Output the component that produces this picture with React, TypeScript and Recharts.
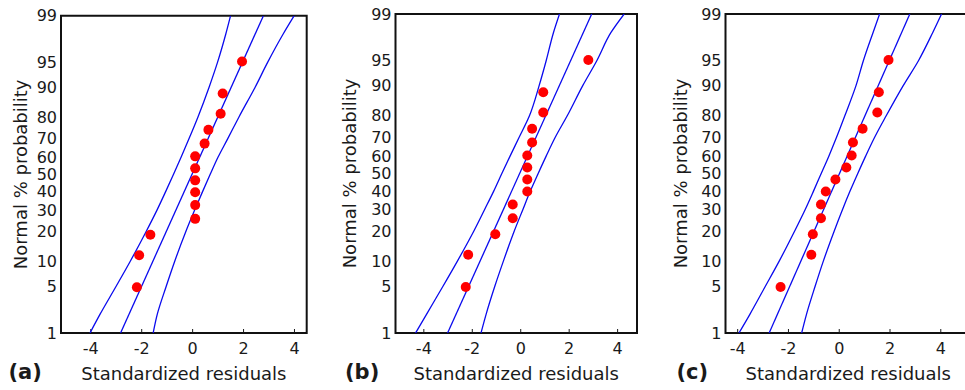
import { ScatterChart, Scatter, XAxis, YAxis, ReferenceArea } from "recharts";

// ranks of the 14 residuals, plotted as normal % probability (same in every panel)
const RANK_PROBS = [4.9, 11.8, 18.8, 25.7, 32.6, 39.6, 46.5, 53.5, 60.4, 67.4, 74.3, 81.3, 88.2, 95.1];

// standardized residuals, in rank order
const residualsA = [-2.19, -2.1, -1.66, 0.1, 0.1, 0.1, 0.1, 0.1, 0.1, 0.47, 0.62, 1.1, 1.18, 1.94];
const residualsB = [-2.27, -2.17, -1.05, -0.33, -0.33, 0.27, 0.27, 0.27, 0.27, 0.47, 0.47, 0.93, 0.93, 2.79];
const residualsC = [-2.31, -1.1, -1.04, -0.72, -0.72, -0.53, -0.15, 0.28, 0.49, 0.54, 0.92, 1.5, 1.56, 1.94];

// confidence band, read at these probabilities
const BAND_PROBS = [1, 2, 5, 10, 20, 30, 40, 50, 60, 70, 80, 90, 95, 98, 99];
const lowerA = [-4.03, -3.64, -3.01, -2.46, -1.83, -1.4, -1.06, -0.75, -0.45, -0.14, 0.21, 0.65, 0.98, 1.3, 1.49];
const upperA = [-1.55, -1.39, -1.04, -0.71, -0.27, 0.08, 0.39, 0.69, 1.0, 1.38, 1.82, 2.46, 2.95, 3.55, 3.99];
const lowerB = [-4.34, -3.89, -3.21, -2.62, -1.94, -1.49, -1.11, -0.78, -0.44, -0.07, 0.36, 0.76, 1.05, 1.35, 1.6];
const upperB = [-1.64, -1.43, -1.07, -0.72, -0.27, 0.09, 0.4, 0.72, 1.05, 1.42, 1.92, 2.56, 3.14, 3.72, 4.27];
const lowerC = [-3.95, -3.52, -2.91, -2.37, -1.76, -1.34, -1.01, -0.71, -0.41, -0.11, 0.22, 0.66, 0.95, 1.33, 1.59];
const upperC = [-1.48, -1.29, -0.95, -0.63, -0.2, 0.13, 0.43, 0.73, 1.04, 1.39, 1.85, 2.52, 3.12, 3.68, 4.03];

// fitted normal line (ends at 1% and 99%)
const FIT_PROBS = [1, 99];
const fitA = [-2.83, 2.78];
const fitB = [-3.02, 2.93];
const fitC = [-2.76, 2.78];

const Y_TICKS = [1, 5, 10, 20, 30, 40, 50, 60, 70, 80, 90, 95, 99];
const X_TICKS = [-4, -2, 0, 2, 4];

const BLUE = "#0a0aee";
const RED = "#ff0000";
const INK = "#1a1a1a";

// inverse normal cdf (Acklam), used for the probability axis
function probit(p: number): number {
  const a = [-39.69683028665376, 220.9460984245205, -275.9285104469687, 138.357751867269, -30.66479806614716, 2.506628277459239];
  const b = [-54.47609879822406, 161.5858368580409, -155.6989798598866, 66.80131188771972, -13.28068155288572];
  const c = [-0.007784894002430293, -0.3223964580411365, -2.400758277161838, -2.549732539343734, 4.374664141464968, 2.938163982699619];
  const d = [0.007784695709041462, 0.3224671290700398, 2.445134137142996, 3.754408661907416];
  const pl = 0.02425;
  if (p < pl) {
    const q = Math.sqrt(-2 * Math.log(p));
    return (((((c[0] * q + c[1]) * q + c[2]) * q + c[3]) * q + c[4]) * q + c[5]) / ((((d[0] * q + d[1]) * q + d[2]) * q + d[3]) * q + 1);
  }
  if (p <= 1 - pl) {
    const q = p - 0.5;
    const r = q * q;
    return ((((((a[0] * r + a[1]) * r + a[2]) * r + a[3]) * r + a[4]) * r + a[5]) * q) / (((((b[0] * r + b[1]) * r + b[2]) * r + b[3]) * r + b[4]) * r + 1);
  }
  const q = Math.sqrt(-2 * Math.log(1 - p));
  return -(((((c[0] * q + c[1]) * q + c[2]) * q + c[3]) * q + c[4]) * q + c[5]) / ((((d[0] * q + d[1]) * q + d[2]) * q + d[3]) * q + 1);
}

const Z_LO = probit(0.01);
const Z_HI = probit(0.99);

const toPoints = (xs: number[], probs: number[]) => xs.map((x, i) => ({ x, z: probit(probs[i] / 100) }));

interface PanelProps {
  left: number;
  width: number;
  plotLeft: number;
  plotRight: number;
  plotTop: number;
  xDomain: [number, number];
  residuals: number[];
  lower: number[];
  upper: number[];
  fit: number[];
  tag: string;
  tagLeft: number;
  titleOffset: number;
}

function Panel(p: PanelProps) {
  const lineProps = { stroke: BLUE, strokeWidth: 1.3 };
  return (
    <>
      <div style={{ position: "absolute", left: p.left, top: 0 }}>
        <ScatterChart
          width={p.width}
          height={390}
          margin={{ top: p.plotTop, right: p.width - p.plotRight, bottom: 0, left: 0 }}
        >
          <XAxis
            type="number"
            dataKey="x"
            domain={p.xDomain}
            allowDataOverflow
            ticks={X_TICKS}
            interval={0}
            height={57}
            axisLine={false}
            tickLine={{ stroke: INK, strokeWidth: 1 }}
            tickSize={-4}
            tickMargin={14}
            tick={{ fill: INK, fontSize: 16 }}
            label={{ value: "Standardized residuals", position: "insideBottom", offset: 10, fill: INK, fontSize: 18 }}
          />
          <YAxis
            type="number"
            dataKey="z"
            domain={[Z_LO, Z_HI]}
            allowDataOverflow
            ticks={Y_TICKS.map((t) => probit(t / 100))}
            tickFormatter={(_v: number, i: number) => String(Y_TICKS[i])}
            interval={0}
            width={p.plotLeft}
            axisLine={false}
            tickLine={false}
            tickSize={0}
            tickMargin={4}
            tick={{ fill: INK, fontSize: 16 }}
            label={{
              value: "Normal % probability",
              angle: -90,
              position: "insideLeft",
              offset: p.titleOffset,
              fill: INK,
              fontSize: 18,
              style: { textAnchor: "middle" },
            }}
          />
          <ReferenceArea
            x1={p.xDomain[0]}
            x2={p.xDomain[1]}
            y1={Z_LO}
            y2={Z_HI}
            fill="none"
            stroke="#111"
            strokeWidth={2}
          />
          <Scatter data={toPoints(p.lower, BAND_PROBS)} fill={BLUE} line={lineProps} lineJointType="monotoneY" shape={() => <g />} isAnimationActive={false} />
          <Scatter data={toPoints(p.fit, FIT_PROBS)} fill={BLUE} line={lineProps} shape={() => <g />} isAnimationActive={false} />
          <Scatter data={toPoints(p.upper, BAND_PROBS)} fill={BLUE} line={lineProps} lineJointType="monotoneY" shape={() => <g />} isAnimationActive={false} />
          <Scatter
            data={toPoints(p.residuals, RANK_PROBS)}
            fill={RED}
            shape={(s: any) => <circle cx={s.cx} cy={s.cy} r={5} fill={RED} />}
            isAnimationActive={false}
          />
        </ScatterChart>
      </div>
      <div
        style={{
          position: "absolute",
          left: p.tagLeft,
          top: 362,
          fontSize: 21,
          lineHeight: "21px",
          fontWeight: "bold",
          color: INK,
        }}
      >
        {p.tag}
      </div>
    </>
  );
}

export default function App() {
  return (
    <div
      style={{
        position: "absolute",
        left: 0,
        top: 0,
        width: 965,
        height: 390,
        overflow: "hidden",
        background: "#fff",
        fontFamily: "'DejaVu Sans', sans-serif",
      }}
    >
      <Panel left={0} width={320} plotLeft={61} plotRight={306.7} plotTop={15.7} xDomain={[-5.17, 4.48]}
        residuals={residualsA} lower={lowerA} upper={upperA} fit={fitA} tag="(a)" tagLeft={8.5} titleOffset={20.5} />
      <Panel left={320} width={330} plotLeft={75.5} plotRight={317} plotTop={14} xDomain={[-5.17, 4.8]}
        residuals={residualsB} lower={lowerB} upper={upperB} fit={fitB} tag="(b)" tagLeft={345} titleOffset={29.3} />
      <Panel left={650} width={330} plotLeft={75.5} plotRight={321} plotTop={14} xDomain={[-4.48, 5.19]}
        residuals={residualsC} lower={lowerC} upper={upperC} fit={fitC} tag="(c)" tagLeft={676.5} titleOffset={30.9} />
    </div>
  );
}
